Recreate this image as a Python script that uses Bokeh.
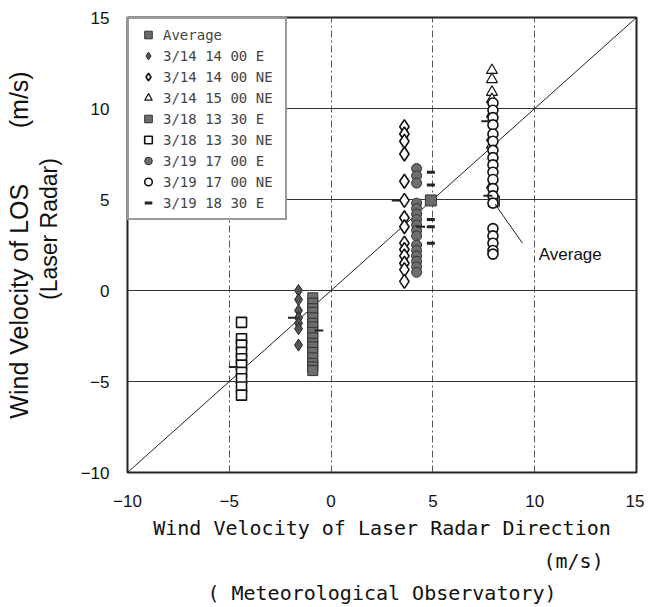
import math
from bokeh.plotting import figure
from bokeh.models import Range1d, Label, Legend, LegendItem, FixedTicker, Title
from bokeh.embed import file_html
from bokeh.resources import INLINE

# ---- data ----
avg_x = [4.9, 8.0]
avg_y = [4.95, 4.9]

e1414_x = [-1.6, -1.6, -1.6, -1.6, -1.6, -1.6, -1.6]
e1414_y = [0.0, -0.5, -1.1, -1.5, -1.8, -2.1, -3.0]

ne1414_x = [3.6] * 14
ne1414_y = [9.0, 8.6, 8.2, 7.5, 6.0, 4.95, 4.0, 3.5, 2.6, 2.25, 1.9, 1.5, 1.15, 0.5]

ne1500_x = [7.9] * 8
ne1500_y = [12.1, 11.6, 10.9, 10.5, 9.7, 8.4, 8.0, 5.8]

e1330_x = [-0.9] * 16
e1330_y = [-0.4, -0.7, -1.0, -1.2, -1.5, -1.8, -2.0, -2.3, -2.6, -2.9, -3.1, -3.4, -3.7, -4.0, -4.2, -4.4]

ne1330_x = [-4.4] * 10
ne1330_y = [-1.75, -2.65, -3.0, -3.4, -3.75, -4.1, -4.5, -4.85, -5.3, -5.75]

e1700_x = [4.2] * 16
e1700_y = [6.7, 6.3, 5.9, 4.8, 4.5, 4.2, 3.9, 3.6, 3.3, 3.0, 2.5, 2.2, 1.9, 1.6, 1.3, 1.0]

ne1700_x = [7.95] * 19
ne1700_y = [10.3, 9.9, 9.5, 9.1, 8.6, 8.2, 7.7, 7.3, 6.9, 6.5, 6.1, 5.6, 5.2, 4.8, 3.4, 3.0, 2.6, 2.2, 2.0]

e1830_x = [4.9] * 5
e1830_y = [6.5, 5.8, 3.9, 3.5, 2.6]

mean_x = [-4.8, -1.9, -0.6, 3.2, 4.4, 7.6, 7.7]
mean_y = [-4.2, -1.5, -2.2, 4.95, 3.5, 9.3, 5.2]

diag = [-10, 15]
ticks = [-10, -5, 0, 5, 10, 15]

p = figure(width=644, height=607, output_backend="svg", toolbar_location=None,
           x_range=Range1d(-10, 15), y_range=Range1d(-10, 15),
           min_border_left=127, min_border_right=8, min_border_top=17, min_border_bottom=135)
p.background_fill_color = "white"
p.border_fill_color = "white"
p.outline_line_color = "#222222"
p.outline_line_width = 2

for ax in (p.xaxis[0], p.yaxis[0]):
    ax.ticker = FixedTicker(ticks=ticks)
    ax.axis_line_color = None
    ax.major_tick_line_color = None
    ax.minor_tick_line_color = None
    ax.major_label_text_font = "Liberation Sans"
    ax.major_label_text_font_size = "17px"
    ax.major_label_text_color = "#111111"
    ax.axis_label_text_font_style = "normal"
    ax.axis_label_text_color = "#111111"

p.xaxis[0].major_label_standoff = 16
p.yaxis[0].major_label_standoff = 12

mono = "DejaVu Sans Mono"
p.xaxis[0].axis_label = "Wind Velocity of Laser Radar Direction"
p.xaxis[0].axis_label_text_font = mono
p.xaxis[0].axis_label_text_font_size = "20px"
p.xaxis[0].axis_label_standoff = 6
p.yaxis[0].axis_label = "\u00a0\u00a0\u00a0\u00a0\u00a0(Laser Radar)"
p.yaxis[0].axis_label_text_font = "Liberation Sans"
p.yaxis[0].axis_label_text_font_size = "23px"
p.yaxis[0].axis_label_standoff = 16

p.add_layout(Title(text="(m/s)", align="left", offset=416, text_font=mono,
                   text_font_size="20px", text_font_style="normal", text_color="#111111",
                   standoff=8), "below")
p.add_layout(Title(text="( Meteorological Observatory)", align="center", text_font=mono,
                   text_font_size="20px", text_font_style="normal", text_color="#111111",
                   standoff=4), "below")
p.add_layout(Title(text="Wind Velocity of LOS" + "\u00a0" * 8 + "(m/s)", align="center",
                   text_font="Liberation Sans", text_font_size="25px", text_font_style="normal",
                   text_color="#111111", standoff=0), "left")

p.ygrid.ticker = FixedTicker(ticks=[-5, 0, 5, 10])
p.ygrid.grid_line_color = "#333333"
p.ygrid.grid_line_width = 1
p.xgrid.ticker = FixedTicker(ticks=[-5, 0, 5, 10])
p.xgrid.grid_line_color = "#555555"
p.xgrid.grid_line_width = 1
p.xgrid.grid_line_dash = "7 3 2 3"

p.line(diag, diag, line_color="#222222", line_width=1)

r_avg = p.scatter(avg_x, avg_y, marker="square", size=11, fill_color="#6a6a6a", line_color="#333333")
r_e1414 = p.scatter(e1414_x, e1414_y, marker="diamond", size=12, fill_color="#555555", line_color="#222222")
r_ne1414 = p.scatter(ne1414_x, ne1414_y, marker="diamond", size=14, fill_color="white", line_color="#111111", line_width=1.6)
r_ne1500 = p.scatter(ne1500_x, ne1500_y, marker="triangle", size=11, fill_color="white", line_color="#111111", line_width=1.2)
r_e1330 = p.scatter(e1330_x, e1330_y, marker="square", size=10, fill_color="#6e6e6e", line_color="#333333")
r_ne1330 = p.scatter(ne1330_x, ne1330_y, marker="square", size=10, fill_color="white", line_color="#111111", line_width=1.6)
r_e1700 = p.scatter(e1700_x, e1700_y, marker="circle", size=10, fill_color="#6e6e6e", line_color="#333333")
r_ne1700 = p.scatter(ne1700_x, ne1700_y, marker="circle", size=10, fill_color="white", line_color="#111111", line_width=1.6)
r_e1830 = p.scatter(e1830_x, e1830_y, marker="dash", size=8, line_color="#222222", line_width=3)
p.scatter(mean_x, mean_y, marker="dash", size=9, line_color="#222222", line_width=2)

legend = Legend(items=[
    LegendItem(label="Average", renderers=[r_avg]),
    LegendItem(label="3/14 14 00 E", renderers=[r_e1414]),
    LegendItem(label="3/14 14 00 NE", renderers=[r_ne1414]),
    LegendItem(label="3/14 15 00 NE", renderers=[r_ne1500]),
    LegendItem(label="3/18 13 30 E", renderers=[r_e1330]),
    LegendItem(label="3/18 13 30 NE", renderers=[r_ne1330]),
    LegendItem(label="3/19 17 00 E", renderers=[r_e1700]),
    LegendItem(label="3/19 17 00 NE", renderers=[r_ne1700]),
    LegendItem(label="3/19 18 30 E", renderers=[r_e1830]),
], location="top_left")
legend.margin = 0
legend.padding = 6
legend.spacing = 2
legend.glyph_width = 26
legend.glyph_height = 19
legend.label_standoff = 2
legend.label_width = 116
legend.label_text_font = mono
legend.label_text_font_size = "14px"
legend.label_height = 19
legend.border_line_color = "#333333"
legend.border_line_width = 2
legend.background_fill_alpha = 1
p.add_layout(legend)

# annotation "Average"
ann_x, ann_y = 10.2, 2.0
ann_line_x = [9.4, 8.05]
ann_line_y = [2.6, 4.75]
p.line(ann_line_x, ann_line_y, line_color="#222222", line_width=1)
p.add_layout(Label(x=ann_x, y=ann_y, text="Average", text_font="Liberation Sans",
                   text_font_size="17px", text_baseline="middle", text_color="#111111"))

open("out.html", "w").write(file_html(p, INLINE))
